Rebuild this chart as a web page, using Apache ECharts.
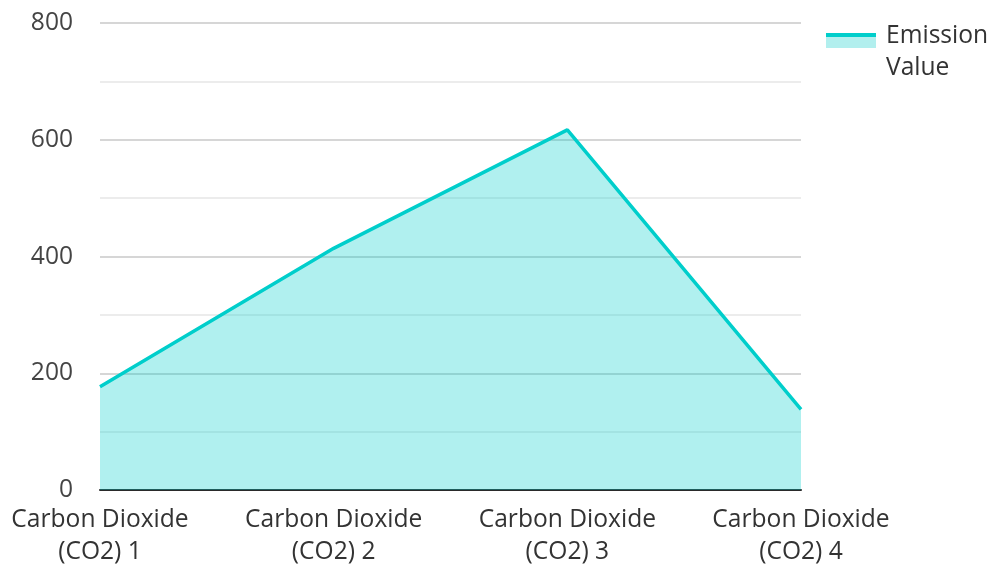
<!DOCTYPE html>
<html>
<head>
<meta charset="utf-8">
<script src="https://cdn.jsdelivr.net/npm/echarts@6/dist/echarts.min.js"></script>
<style>html,body{margin:0;padding:0;background:#fff}#c{width:991px;height:564px}</style>
</head>
<body>
<div id="c"></div>
<script>
const categories = ['Carbon Dioxide\n(CO2) 1', 'Carbon Dioxide\n(CO2) 2', 'Carbon Dioxide\n(CO2) 3', 'Carbon Dioxide\n(CO2) 4'];
const emissionValues = [177, 414, 617, 138];
const seriesName = 'Emission\nValue';

const chart = echarts.init(document.getElementById('c'));
const font = 'Open Sans';
const fs = 24.6;
chart.setOption({
  animation: false,
  textStyle: { fontFamily: font },
  grid: { left: 100, right: 190, top: 23, bottom: 74, outerBoundsMode: 'none' },
  legend: {
    left: 826, top: 20,
    padding: 0,
    orient: 'vertical',
    itemWidth: 50, itemHeight: 38,
    icon: 'rect',
    textStyle: { fontFamily: font, fontSize: fs, color: '#333', lineHeight: 32, padding: [0, 0, 0, 5] },
    itemStyle: {
      color: new echarts.graphic.LinearGradient(0, 0, 0, 1, [
        { offset: 0, color: '#00CECB' }, { offset: 0.105, color: '#00CECB' },
        { offset: 0.105, color: '#B2EFEE' }, { offset: 0.395, color: '#B2EFEE' },
        { offset: 0.395, color: 'rgba(255,255,255,0)' }, { offset: 1, color: 'rgba(255,255,255,0)' }
      ]),
      borderWidth: 0
    },
    data: [seriesName]
  },
  xAxis: {
    type: 'category',
    boundaryGap: false,
    data: categories,
    axisLine: { lineStyle: { color: '#2a2a2a', width: 2 } },
    axisTick: { show: false },
    axisLabel: { fontFamily: font, fontSize: fs, color: '#333', lineHeight: 32, margin: 14 }
  },
  yAxis: {
    type: 'value',
    min: 0, max: 800, interval: 200,
    axisLine: { show: false },
    axisTick: { show: false },
    axisLabel: { fontFamily: font, fontSize: fs, color: '#444', margin: 27 },
    splitLine: { lineStyle: { color: '#c8c8c8', width: 1.5 } },
    minorTick: { show: false, splitNumber: 2 },
    minorSplitLine: { show: true, lineStyle: { color: '#e6e6e6', width: 1.5 } }
  },
  series: [{
    name: seriesName,
    type: 'line',
    data: emissionValues,
    symbol: 'none',
    lineStyle: { color: '#00CECB', width: 3.5 },
    itemStyle: { color: '#00CECB' },
    areaStyle: { color: 'rgba(0,206,203,0.31)', opacity: 1 },
    z: 1
  }]
});
</script>
</body>
</html>
